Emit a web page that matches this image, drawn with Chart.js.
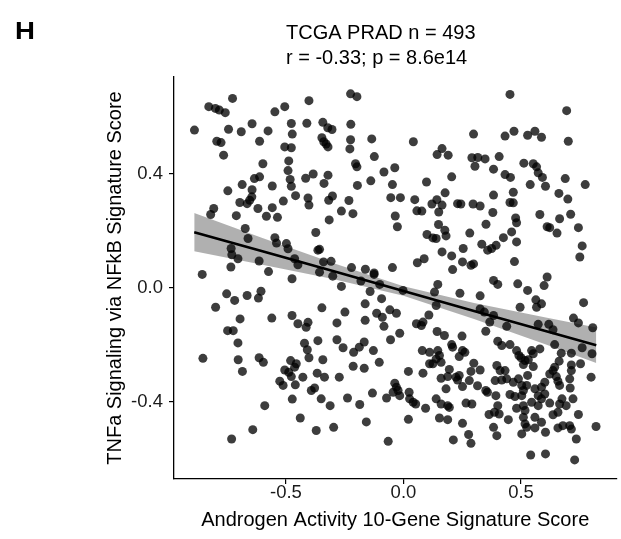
<!DOCTYPE html>
<html>
<head>
<meta charset="utf-8">
<script src="https://cdn.jsdelivr.net/npm/chart.js@4/dist/chart.umd.min.js"></script>
<style>
  body { margin: 0; background: #fff; }
  canvas { display: block; }
</style>
</head>
<body>
<canvas id="scatter" width="621" height="539"></canvas>
<script>
// text
var panelLabel = 'H';
var titleLines = ['TCGA PRAD n = 493', 'r = -0.33; p = 8.6e14'];
var xTitle = 'Androgen Activity 10-Gene Signature Score';
var yTitle = 'TNFa Signaling via NFkB Signature Score';

// tick labels
var xTicks = [-0.5, 0.0, 0.5];
var yTicks = [-0.4, 0.0, 0.4];

// one sample per pair: [androgen score, TNFa score]
var samples = [
  [-0.727,0.663],[-0.828,0.634],[-0.800,0.628],[-0.783,0.622],[-0.758,0.613],[-0.547,0.616],[-0.889,0.552],[-0.744,0.555],
  [-0.690,0.546],[-0.644,0.574],[-0.576,0.549],[-0.794,0.513],[-0.776,0.508],[-0.612,0.513],[-0.765,0.464],[-0.598,0.434],
  [-0.634,0.382],[-0.612,0.388],[-0.686,0.361],[-0.558,0.356],[-0.747,0.339],[-0.644,0.343],[-0.645,0.318],[-0.654,0.306],
  [-0.665,0.294],[-0.696,0.298],[-0.619,0.277],[-0.558,0.280],[-0.807,0.277],[-0.820,0.256],[-0.711,0.252],[-0.583,0.250],
  [-0.536,0.246],[-0.673,0.207],[-0.661,0.172],[-0.547,0.175],[-0.540,0.156],[-0.733,0.137],[-0.730,0.115],[-0.704,0.101],
  [-0.614,0.093],[-0.734,0.072],

  [-0.505,0.634],[-0.402,0.655],[-0.225,0.679],[-0.198,0.669],[-0.477,0.575],[-0.411,0.576],[-0.343,0.579],[-0.322,0.560],
  [-0.304,0.554],[-0.224,0.572],[-0.473,0.538],[-0.347,0.525],[-0.339,0.511],[-0.329,0.503],[-0.321,0.493],[-0.225,0.518],
  [-0.228,0.486],[-0.135,0.521],[-0.505,0.493],[-0.477,0.490],[-0.124,0.459],[-0.488,0.444],[-0.204,0.434],[-0.198,0.423],
  [-0.083,0.405],[-0.491,0.410],[-0.384,0.398],[-0.321,0.394],[-0.416,0.383],[-0.482,0.379],[-0.477,0.355],[-0.338,0.365],
  [-0.196,0.358],[-0.139,0.374],[-0.511,0.303],[-0.459,0.322],[-0.406,0.314],[-0.402,0.289],[-0.318,0.306],[-0.302,0.321],
  [-0.232,0.305],[-0.264,0.268],[-0.215,0.259],[-0.316,0.237],[-0.373,0.193],[-0.498,0.154],[-0.491,0.136],[-0.364,0.131],
  [-0.357,0.134],[-0.463,0.101],[-0.449,0.080],[-0.340,0.090],[-0.308,0.092],[-0.221,0.070],[-0.162,0.064],[-0.125,0.051],

  [0.298,0.538],[0.042,0.511],[0.164,0.487],[0.143,0.466],[0.190,0.464],[0.291,0.455],[0.316,0.456],[0.347,0.451],
  [0.304,0.425],[-0.037,0.420],[-0.047,0.361],[0.098,0.370],[0.205,0.388],[-0.054,0.315],[-0.013,0.315],[0.048,0.308],
  [0.142,0.308],[0.121,0.293],[0.164,0.289],[0.150,0.265],[0.177,0.332],[0.230,0.294],[0.244,0.293],[0.296,0.293],
  [0.326,0.286],[0.057,0.269],[0.078,0.268],[-0.035,0.251],[-0.026,0.213],[0.149,0.221],[0.176,0.201],[0.181,0.181],
  [0.100,0.186],[0.125,0.174],[0.139,0.172],[0.282,0.191],[0.351,0.222],[0.333,0.152],[0.358,0.131],[0.375,0.137],
  [0.254,0.137],[0.164,0.125],[0.205,0.111],[0.088,0.101],[0.059,0.087],[-0.047,0.070],[0.251,0.090],[0.287,0.078],
  [0.298,0.083],[0.209,0.063],

  [0.453,0.677],[0.694,0.620],[0.432,0.531],[0.470,0.548],[0.528,0.534],[0.559,0.548],[0.587,0.527],[0.701,0.513],
  [0.407,0.459],[0.383,0.415],[0.512,0.436],[0.552,0.434],[0.566,0.423],[0.573,0.402],[0.591,0.386],[0.604,0.355],
  [0.432,0.396],[0.455,0.386],[0.688,0.382],[0.773,0.361],[0.539,0.361],[0.383,0.324],[0.467,0.334],[0.661,0.330],
  [0.699,0.310],[0.453,0.298],[0.467,0.297],[0.380,0.263],[0.580,0.256],[0.711,0.257],[0.664,0.241],[0.477,0.244],
  [0.481,0.227],[0.611,0.213],[0.622,0.210],[0.653,0.191],[0.744,0.210],[0.460,0.195],[0.425,0.175],[0.394,0.148],
  [0.481,0.160],[0.760,0.146],[0.750,0.107],[0.472,0.091],

  [-0.856,0.046],[-0.574,0.056],[-0.752,-0.022],[-0.718,-0.045],[-0.665,-0.028],[-0.606,-0.013],[-0.617,-0.037],[-0.799,-0.069],
  [-0.695,-0.110],[-0.560,-0.107],[-0.748,-0.151],[-0.724,-0.151],[-0.704,-0.194],[-0.853,-0.248],[-0.703,-0.253],[-0.614,-0.246],
  [-0.596,-0.262],[-0.685,-0.294],[-0.526,-0.328],[-0.590,-0.414],[-0.641,-0.498],[-0.731,-0.531],

  [-0.474,0.031],[-0.357,0.054],[-0.301,0.040],[-0.264,0.004],[-0.181,0.023],[-0.125,0.046],[-0.101,0.011],[-0.142,-0.014],
  [-0.093,-0.039],[-0.347,-0.071],[-0.474,-0.098],[-0.449,-0.127],[-0.414,-0.139],[-0.406,-0.122],[-0.249,-0.086],[-0.283,-0.124],
  [-0.163,-0.057],[-0.114,-0.090],[-0.090,-0.104],[-0.083,-0.136],[-0.163,-0.115],[-0.364,-0.186],[-0.421,-0.195],[-0.409,-0.218],
  [-0.283,-0.183],[-0.257,-0.211],[-0.212,-0.227],[-0.188,-0.209],[-0.167,-0.191],[-0.128,-0.221],[-0.402,-0.246],[-0.343,-0.253],
  [-0.103,-0.262],[-0.480,-0.256],[-0.456,-0.267],[-0.463,-0.279],[-0.488,-0.297],[-0.505,-0.289],[-0.477,-0.312],[-0.428,-0.314],
  [-0.367,-0.300],[-0.336,-0.314],[-0.273,-0.314],[-0.214,-0.276],[-0.167,-0.283],[-0.512,-0.343],[-0.460,-0.341],[-0.392,-0.361],
  [-0.378,-0.352],[-0.350,-0.390],[-0.312,-0.414],[-0.238,-0.387],[-0.186,-0.410],[-0.132,-0.370],[-0.473,-0.391],[-0.439,-0.457],
  [-0.371,-0.501],[-0.297,-0.490],[-0.158,-0.471],

  [0.146,0.011],[0.132,-0.016],[-0.002,-0.010],[0.240,-0.020],[0.326,-0.029],[0.139,-0.063],[0.108,-0.096],[-0.058,-0.078],
  [-0.030,-0.090],[0.326,-0.075],[0.344,-0.086],[0.367,-0.121],[0.350,-0.153],[0.055,-0.127],[0.083,-0.121],[0.076,-0.133],
  [-0.016,-0.160],[-0.055,-0.183],[0.143,-0.154],[0.174,-0.168],[0.249,-0.170],[0.205,-0.200],[0.209,-0.209],[0.080,-0.221],
  [0.111,-0.227],[0.146,-0.221],[0.153,-0.238],[0.139,-0.250],[0.160,-0.262],[0.125,-0.267],[0.111,-0.267],[0.251,-0.221],
  [0.261,-0.227],[0.237,-0.242],[0.299,-0.265],[0.195,-0.287],[0.021,-0.294],[0.083,-0.300],[0.287,-0.294],[0.326,-0.289],
  [0.160,-0.318],[0.188,-0.312],[0.223,-0.314],[0.237,-0.308],[0.230,-0.324],[0.280,-0.326],[0.251,-0.347],[0.181,-0.355],
  [-0.037,-0.335],[-0.030,-0.349],[-0.023,-0.361],[-0.044,-0.367],[-0.016,-0.379],[0.315,-0.344],[0.350,-0.361],[0.357,-0.367],
  [-0.072,-0.387],[0.024,-0.367],[0.026,-0.390],[0.041,-0.402],[0.052,-0.408],[0.139,-0.390],[0.160,-0.408],[0.188,-0.414],
  [0.195,-0.420],[0.266,-0.405],[0.291,-0.408],[0.094,-0.423],[0.364,-0.445],[0.153,-0.457],[0.188,-0.463],[0.021,-0.462],
  [0.251,-0.476],[-0.065,-0.539],[0.277,-0.515],[0.287,-0.546],[0.212,-0.534],

  [0.383,0.025],[0.401,0.011],[0.486,0.013],[0.528,-0.010],[0.611,0.037],[0.598,0.007],[0.563,-0.043],[0.587,-0.057],
  [0.566,-0.069],[0.496,-0.069],[0.766,-0.053],[0.383,-0.098],[0.439,-0.136],[0.573,-0.129],[0.618,-0.129],[0.636,-0.148],
  [0.723,-0.107],[0.744,-0.124],[0.805,-0.141],[0.401,-0.188],[0.418,-0.203],[0.453,-0.200],[0.481,-0.221],[0.491,-0.238],
  [0.500,-0.246],[0.545,-0.221],[0.552,-0.232],[0.580,-0.215],[0.531,-0.253],[0.517,-0.256],[0.643,-0.200],[0.671,-0.230],
  [0.714,-0.230],[0.760,-0.211],[0.802,-0.232],[0.662,-0.258],[0.643,-0.279],[0.636,-0.291],[0.397,-0.273],[0.411,-0.291],
  [0.432,-0.291],[0.418,-0.324],[0.390,-0.326],[0.510,-0.270],[0.552,-0.277],[0.714,-0.271],[0.714,-0.291],[0.753,-0.267],
  [0.798,-0.314],[0.528,-0.308],[0.524,-0.343],[0.503,-0.343],[0.489,-0.320],[0.467,-0.332],[0.439,-0.320],[0.622,-0.303],
  [0.650,-0.312],[0.657,-0.328],[0.664,-0.343],[0.707,-0.320],[0.709,-0.352],[0.601,-0.332],[0.587,-0.349],[0.559,-0.355],
  [0.573,-0.379],[0.587,-0.390],[0.601,-0.373],[0.453,-0.375],[0.474,-0.382],[0.510,-0.361],[0.503,-0.379],[0.622,-0.405],
  [0.545,-0.402],[0.393,-0.379],[0.401,-0.414],[0.407,-0.443],[0.387,-0.437],[0.481,-0.423],[0.510,-0.414],[0.517,-0.431],
  [0.510,-0.455],[0.517,-0.478],[0.573,-0.414],[0.674,-0.390],[0.664,-0.408],[0.692,-0.414],[0.721,-0.390],[0.559,-0.455],
  [0.587,-0.472],[0.636,-0.446],[0.657,-0.437],[0.744,-0.445],[0.446,-0.463],[0.383,-0.490],[0.397,-0.519],[0.524,-0.490],
  [0.559,-0.492],[0.604,-0.507],[0.657,-0.492],[0.678,-0.484],[0.707,-0.484],[0.714,-0.496],[0.735,-0.531],[0.819,-0.487],
  [0.503,-0.513],[0.541,-0.587],[0.604,-0.583],[0.728,-0.604]
];

// linear fit and its 95% band
var fitX = [-0.89, -0.6, -0.3, 0.0, 0.3, 0.6, 0.82];
var fitY = [0.194, 0.127, 0.058, -0.012, -0.082, -0.151, -0.202];
var bandLow = [0.127, 0.080, 0.030, -0.029, -0.110, -0.198, -0.264];
var bandHigh = [0.261, 0.174, 0.086, 0.005, -0.054, -0.104, -0.140];

var FONT = '"Liberation Sans", Arial, sans-serif';
Chart.defaults.font.family = FONT;

function toPoints(xs, ys) {
    return xs.map(function(x, i) { return { x: x, y: ys[i] }; });
}

var headerPlugin = {
    id: 'header',
    afterDraw: function(chart) {
        var ctx = chart.ctx;
        ctx.save();
        ctx.fillStyle = '#000';
        ctx.textBaseline = 'alphabetic';
        ctx.textAlign = 'left';
        // panel letter is a little wider than plain bold in the original
        ctx.save();
        ctx.translate(15, 39);
        ctx.scale(1.2, 1);
        ctx.font = 'bold 23px ' + FONT;
        ctx.fillText(panelLabel, 0, 0);
        ctx.restore();
        ctx.font = '20px ' + FONT;
        ctx.fillText(titleLines[0], 286, 39);
        ctx.fillText(titleLines[1], 286, 64);
        ctx.restore();
    }
};

var noStroke = 'rgba(0,0,0,0)';

new Chart(document.getElementById('scatter'), {
    type: 'scatter',
    data: {
        datasets: [
            {
                data: toPoints(fitX, bandHigh),
                showLine: true,
                fill: '+1',
                backgroundColor: 'rgba(150,150,150,0.75)',
                borderColor: noStroke,
                pointRadius: 0,
                order: 3
            },
            {
                data: toPoints(fitX, bandLow),
                showLine: true,
                fill: false,
                borderColor: noStroke,
                pointRadius: 0,
                order: 3
            },
            {
                data: samples.map(function(s) { return { x: s[0], y: s[1] }; }),
                pointRadius: 4.5,
                pointBackgroundColor: 'rgba(0,0,0,0.76)',
                pointBorderWidth: 0,
                order: 2
            },
            {
                data: toPoints(fitX, fitY),
                showLine: true,
                borderColor: '#000',
                borderWidth: 2.6,
                pointRadius: 0,
                order: 1
            }
        ]
    },
    options: {
        responsive: false,
        animation: false,
        layout: { padding: { top: 77, right: 1, left: 0, bottom: 0 } },
        plugins: {
            legend: { display: false },
            tooltip: { enabled: false }
        },
        scales: {
            x: {
                type: 'linear',
                min: -0.976,
                max: 0.906,
                afterBuildTicks: function(s) { s.ticks = xTicks.map(function(v) { return { value: v }; }); },
                afterFit: function(s) { s.height = 60; },
                grid: { drawOnChartArea: false, drawTicks: true, tickLength: 5, color: '#000', lineWidth: 1.2 },
                border: { display: true, color: '#000', width: 1.3 },
                ticks: {
                    padding: -2,
                    color: '#1a1a1a',
                    font: { size: 18.5 },
                    maxRotation: 0,
                    callback: function(v) { return v.toFixed(1); }
                },
                title: {
                    display: true,
                    text: xTitle,
                    color: '#000',
                    font: { size: 20 },
                    padding: { top: 0, bottom: 7 }
                }
            },
            y: {
                type: 'linear',
                min: -0.671,
                max: 0.738,
                afterBuildTicks: function(s) { s.ticks = yTicks.map(function(v) { return { value: v }; }); },
                afterFit: function(s) { s.width = 174; },
                grid: { drawOnChartArea: false, drawTicks: true, tickLength: 5, color: '#000', lineWidth: 1.2 },
                border: { display: true, color: '#000', width: 1.3 },
                ticks: {
                    padding: 6,
                    color: '#1a1a1a',
                    font: { size: 18.5 },
                    callback: function(v) { return v.toFixed(1); }
                },
                title: {
                    display: true,
                    text: yTitle,
                    color: '#000',
                    font: { size: 20 },
                    padding: { top: 103, bottom: 0 }
                }
            }
        }
    },
    plugins: [headerPlugin]
});
</script>
</body>
</html>
